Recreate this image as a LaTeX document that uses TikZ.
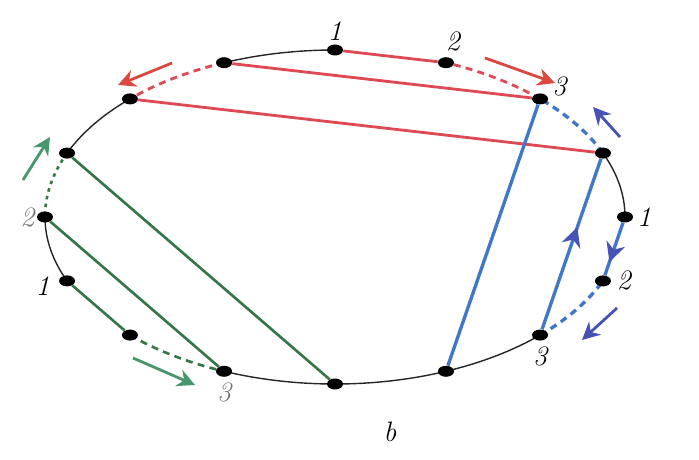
\documentclass[tikz,border=0pt]{standalone}
\usetikzlibrary{
  calc,
  positioning,
  arrows.meta,
  shapes.geometric,
  backgrounds,
  decorations.markings}
\definecolor{chordred}{RGB}{222,74,84}
\definecolor{arrowred}{RGB}{220,72,64}
\definecolor{chordblue}{RGB}{66,118,200}
\definecolor{arrowblue}{RGB}{72,82,182}
\definecolor{chordgreen}{RGB}{52,118,72}
\definecolor{arrowgreen}{RGB}{72,150,108}

\begin{document}
\begin{tikzpicture}[
  dot/.style={ellipse,fill=black,inner sep=0pt,
    minimum width=0.32cm,minimum height=0.22cm},
  lbl/.style={inner sep=1pt,font=\fontsize{16}{19}\selectfont\itshape},
  rim/.style={draw=black!85,line width=0.8pt},
  redline/.style={draw=chordred,line width=1.6pt},
  blueline/.style={draw=chordblue,line width=1.9pt},
  greenline/.style={draw=chordgreen,line width=1.5pt},
  reddash/.style={redline,dash pattern=on 4pt off 3pt},
  bluedash/.style={blueline,dash pattern=on 4pt off 3pt},
  greendash/.style={greenline,dash pattern=on 4pt off 3pt},
  greendot/.style={greenline,dash pattern=on 2pt off 2.5pt},
  arw/.style={-{Stealth[length=10pt,width=10pt]},line width=1.6pt},
  midarrow/.style={postaction={decorate},decoration={markings,
    mark=at position #1 with {\arrow{Stealth[length=11pt,width=11pt,color=arrowblue]}}}}
]
  \useasboundingbox (0,0) rectangle (13.98,9.18);

  % Points on the loop
  \foreach \k in {0,...,15}
    \node[dot] (p\k) at ({6.70+5.8*cos(22.5*\k)},{4.84+3.34*sin(22.5*\k)}) {};

  % Loop
  \begin{scope}[on background layer]
    \foreach \k/\s in {0/rim,4/rim,6/rim,8/rim,11/rim,12/rim,13/rim,
                       2/reddash,5/reddash,1/bluedash,14/bluedash,
                       7/greendot,10/greendash}
      \draw[\s] (p\k.center)
        arc[start angle={22.5*\k},delta angle=22.5,x radius=5.8,y radius=3.34];
  \end{scope}

  % Red chords
  \draw[redline] (p4) -- (p3);
  \draw[redline] (p5) -- (p2);
  \draw[redline] (p6) -- (p1);

  % Green chords
  \draw[greenline] (p9) -- (p10);
  \draw[greenline] (p8) -- (p11);
  \draw[greenline] (p7) -- (p12);

  % Blue chords
  \draw[blueline] (p13) -- (p2);
  \draw[blueline,midarrow=0.6] (p14) -- (p1);
  \draw[blueline,midarrow=0.75] (p0) -- (p15);

  % Direction arrows
  \coordinate (ra1) at (9.70,8.02);  \coordinate (ra2) at (11.10,7.52);
  \coordinate (rb1) at (3.44,7.92);  \coordinate (rb2) at (2.36,7.48);
  \coordinate (ga1) at (0.46,5.58);  \coordinate (ga2) at (1.00,6.44);
  \coordinate (gb1) at (2.66,2.02);  \coordinate (gb2) at (3.90,1.48);
  \coordinate (ba1) at (12.40,6.44); \coordinate (ba2) at (11.86,7.04);
  \coordinate (bb1) at (12.34,3.02); \coordinate (bb2) at (11.64,2.38);
  \draw[arw,arrowred] (ra1) -- (ra2);
  \draw[arw,arrowred] (rb1) -- (rb2);
  \draw[arw,arrowgreen] (ga1) -- (ga2);
  \draw[arw,arrowgreen] (gb1) -- (gb2);
  \draw[arw,arrowblue] (ba1) -- (ba2);
  \draw[arw,arrowblue] (bb1) -- (bb2);

  % Labels
  \node[lbl,above=1pt of p4] (l4) {1};
  \node[lbl,above=2pt of p3,xshift=4pt] (l3) {2};
  \node[lbl,right=1pt of p2,yshift=7pt] (l2) {3};
  \node[lbl,right=1pt of p0] (l0) {1};
  \node[lbl,right=2pt of p15] (l15) {2};
  \node[lbl,below=2pt of p14] (l14) {3};
  \node[lbl,left=4pt of p9,yshift=-3pt] (l9) {1};
  \node[lbl,left=0pt of p8,text=black!55] (l8) {2};
  \node[lbl,below=2pt of p11,text=black!55] (l11) {3};
  \node[lbl] (b) at ($(p12)+(1.1,-0.96)$) {b};

\end{tikzpicture}
\end{document}
